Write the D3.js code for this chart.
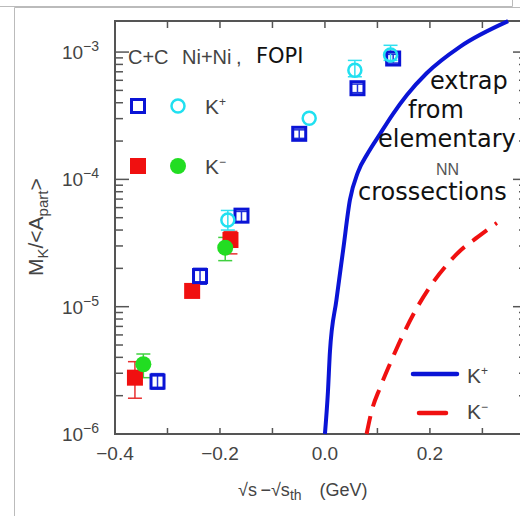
<!DOCTYPE html>
<html>
<head>
<meta charset="utf-8">
<script src="https://cdn.jsdelivr.net/npm/d3@7"></script>
<style>
  body { margin: 0; background: #fff; }
  svg { display: block; }
  .cond { font-family: "Liberation Sans", Arial, sans-serif; fill: #444; }
  .note { font-family: "DejaVu Sans", sans-serif; fill: #111; }
</style>
</head>
<body>
<svg width="520" height="516"></svg>
<script>
// data
// K+ open squares (C+C, Ni+Ni)
var kpSqX = [-0.319, -0.238, -0.159, -0.049, 0.062, 0.130];
var kpSqY = [2.58e-6, 1.74e-5, 5.19e-5, 2.28e-4, 5.2e-4, 8.9e-4];
var kpSqLo = [2.25e-6, 1.5e-5, 4.6e-5, 2.1e-4, 4.8e-4, 8.2e-4];
var kpSqHi = [2.98e-6, 2.0e-5, 5.6e-5, 2.45e-4, 5.6e-4, 9.6e-4];
// K+ open circles
var kpCiX = [-0.185, -0.030, 0.057, 0.125];
var kpCiY = [4.8e-5, 3.02e-4, 7.2e-4, 9.5e-4];
var kpCiLo = [4.0e-5, 3.02e-4, 6.4e-4, 8.6e-4];
var kpCiHi = [5.7e-5, 3.02e-4, 8.6e-4, 1.13e-3];
// K- filled squares
var kmSqX = [-0.362, -0.253, -0.180];
var kmSqY = [2.77e-6, 1.33e-5, 3.34e-5];
var kmSqLo = [1.91e-6, 1.33e-5, 2.6e-5];
var kmSqHi = [3.7e-6, 1.33e-5, 3.9e-5];
// K- filled circles
var kmCiX = [-0.346, -0.190];
var kmCiY = [3.53e-6, 2.91e-5];
var kmCiLo = [2.77e-6, 2.3e-5];
var kmCiHi = [4.25e-6, 3.5e-5];
// extrapolation from elementary NN cross sections
var kpCurveX = [0.0, 0.0057, 0.0095, 0.0219, 0.0347, 0.0476, 0.0629, 0.0819, 0.1048, 0.1295, 0.1562, 0.1937, 0.2571, 0.349];
var kpCurveY = [1e-6, 2.14e-6, 4.41e-6, 1.13e-5, 2.79e-5, 6.89e-5, 1.14e-4, 1.61e-4, 2.27e-4, 3.26e-4, 4.60e-4, 6.82e-4, 1.10e-3, 1.75e-3];
var kmCurveX = [0.0794, 0.0895, 0.1048, 0.1238, 0.1486, 0.1771, 0.2038, 0.2305, 0.2571, 0.2914, 0.3276];
var kmCurveY = [1e-6, 1.54e-6, 2.30e-6, 3.55e-6, 6.0e-6, 1.01e-5, 1.51e-5, 2.09e-5, 2.74e-5, 3.53e-5, 4.55e-5];

var xTicks = [-0.4, -0.2, 0.0, 0.2];
var yTicks = [1e-6, 1e-5, 1e-4, 1e-3];
var yExp = ["\u22126", "\u22125", "\u22124", "\u22123"];

var svg = d3.select("svg");

// screenshot frame lines
svg.append("path").attr("d", "M0,6.5H512.5V0").attr("fill", "none").attr("stroke", "#bbb");
svg.append("path").attr("d", "M14.5,516V7.5H520").attr("fill", "none").attr("stroke", "#bbb");

var x = d3.scaleLinear().domain([-0.4, 0.385]).range([115, 527]);
var y = d3.scaleLog().domain([1e-6, 1.754e-3]).range([434, 21]);

var axisColor = "#555";

// frame of plot
svg.append("rect")
    .attr("x", x.range()[0]).attr("y", y.range()[1])
    .attr("width", x.range()[1] - x.range()[0])
    .attr("height", y.range()[0] - y.range()[1])
    .attr("fill", "none").attr("stroke", axisColor).attr("stroke-width", 2);

// x ticks (every 0.1, bottom and top, inward)
var xMinor = d3.range(-4, 4).map(function (d) { return d / 10; });
svg.append("g").selectAll("line").data(xMinor).enter().append("line")
    .attr("x1", function (d) { return x(d); }).attr("x2", function (d) { return x(d); })
    .attr("y1", 434).attr("y2", 428)
    .attr("stroke", axisColor).attr("stroke-width", 1.5);
svg.append("g").selectAll("line").data(xMinor).enter().append("line")
    .attr("x1", function (d) { return x(d); }).attr("x2", function (d) { return x(d); })
    .attr("y1", 21).attr("y2", 28)
    .attr("stroke", axisColor).attr("stroke-width", 1.5);

svg.append("g").selectAll("text").data(xTicks).enter().append("text")
    .attr("class", "cond")
    .attr("x", function (d) { return x(d); })
    .attr("y", 460)
    .attr("text-anchor", "middle")
    .style("font-size", "19px")
    .text(function (d) { return d3.format(".1f")(d).replace("-", "\u2212"); });

// y ticks: log decades with minor ticks, left and right, inward
var yAll = [];
yTicks.forEach(function (t) {
  for (var k = 1; k <= 9; k++) {
    var v = t * k;
    if (v <= y.domain()[1]) yAll.push({ v: v, major: k === 1 });
  }
});
svg.append("g").selectAll("line").data(yAll).enter().append("line")
    .attr("x1", 115).attr("x2", function (d) { return d.major ? 129 : 123; })
    .attr("y1", function (d) { return y(d.v); }).attr("y2", function (d) { return y(d.v); })
    .attr("stroke", axisColor).attr("stroke-width", 1.5);
svg.append("g").selectAll("line").data(yAll).enter().append("line")
    .attr("x1", 527).attr("x2", function (d) { return d.major ? 513 : 519; })
    .attr("y1", function (d) { return y(d.v); }).attr("y2", function (d) { return y(d.v); })
    .attr("stroke", axisColor).attr("stroke-width", 1.5);

var yLab = svg.append("g").selectAll("text").data(yTicks).enter().append("text")
    .attr("class", "cond")
    .attr("x", 99)
    .attr("y", function (d) { return y(d) + 7; })
    .attr("text-anchor", "end")
    .style("font-size", "19px");
yLab.append("tspan").text("10");
yLab.append("tspan").attr("dy", -8).style("font-size", "14px")
    .text(function (d, i) { return yExp[i]; });

// axis titles
svg.append("text")
    .attr("class", "cond")
    .attr("x", 238).attr("y", 496)
    .style("font-size", "18px")
    .html('\u221As\u2009\u2212\u221As<tspan dy="4" style="font-size:14px">th</tspan><tspan dy="-4">\u2003(GeV)</tspan>');

svg.append("text")
    .attr("class", "cond")
    .attr("transform", "translate(43,276) rotate(-90)")
    .style("font-size", "21px")
    .html('M<tspan dy="5" style="font-size:15px">K</tspan><tspan dy="-5">/&lt;A</tspan><tspan dy="5" style="font-size:15px">part</tspan><tspan dy="-5">&gt;</tspan>');

// curves
var line = d3.line()
    .x(function (d) { return x(d[0]); })
    .y(function (d) { return y(d[1]); })
    .curve(d3.curveMonotoneX);

svg.append("path")
    .datum(d3.zip(kpCurveX, kpCurveY))
    .attr("d", line)
    .attr("fill", "none").attr("stroke", "#0a14d6").attr("stroke-width", 4);

svg.append("path")
    .datum(d3.zip(kmCurveX, kmCurveY))
    .attr("d", line)
    .attr("fill", "none").attr("stroke", "#f01010").attr("stroke-width", 4)
    .attr("stroke-dasharray", "18,10");

// error bars
function errBars(xs, ys, lo, hi, color, w) {
  var g = svg.append("g").attr("stroke", color).attr("stroke-width", 1.5);
  xs.forEach(function (xv, i) {
    if (lo[i] === hi[i]) return;
    g.append("line").attr("x1", x(xv)).attr("x2", x(xv)).attr("y1", y(lo[i])).attr("y2", y(hi[i]));
    g.append("line").attr("x1", x(xv) - w).attr("x2", x(xv) + w).attr("y1", y(lo[i])).attr("y2", y(lo[i]));
    g.append("line").attr("x1", x(xv) - w).attr("x2", x(xv) + w).attr("y1", y(hi[i])).attr("y2", y(hi[i]));
  });
}
errBars(kmSqX, kmSqY, kmSqLo, kmSqHi, "#e83030", 7);
errBars(kmCiX, kmCiY, kmCiLo, kmCiHi, "#40d040", 7);
errBars(kpSqX, kpSqY, kpSqLo, kpSqHi, "#2030d8", 7);
errBars(kpCiX, kpCiY, kpCiLo, kpCiHi, "#30e0f0", 7);

// markers
svg.append("g").selectAll("rect").data(d3.zip(kmSqX, kmSqY)).enter().append("rect")
    .attr("x", function (d) { return x(d[0]) - 8; })
    .attr("y", function (d) { return y(d[1]) - 8; })
    .attr("width", 16).attr("height", 16)
    .attr("fill", "#f01010");

svg.append("g").selectAll("circle").data(d3.zip(kmCiX, kmCiY)).enter().append("circle")
    .attr("cx", function (d) { return x(d[0]); })
    .attr("cy", function (d) { return y(d[1]); })
    .attr("r", 8)
    .attr("fill", "#22dd22");

svg.append("g").selectAll("rect").data(d3.zip(kpSqX, kpSqY)).enter().append("rect")
    .attr("x", function (d) { return x(d[0]) - 6.5; })
    .attr("y", function (d) { return y(d[1]) - 6.5; })
    .attr("width", 13).attr("height", 13)
    .attr("fill", "none").attr("stroke", "#0a14d6").attr("stroke-width", 3);

svg.append("g").selectAll("circle").data(d3.zip(kpCiX, kpCiY)).enter().append("circle")
    .attr("cx", function (d) { return x(d[0]); })
    .attr("cy", function (d) { return y(d[1]); })
    .attr("r", 6.5)
    .attr("fill", "none").attr("stroke", "#20e0f0").attr("stroke-width", 2.5);

// legend for markers
svg.append("rect").attr("x", 131.5).attr("y", 99.5).attr("width", 13).attr("height", 13)
    .attr("fill", "none").attr("stroke", "#0a14d6").attr("stroke-width", 3);
svg.append("circle").attr("cx", 178).attr("cy", 106).attr("r", 6.5)
    .attr("fill", "none").attr("stroke", "#20e0f0").attr("stroke-width", 2.5);
svg.append("rect").attr("x", 130).attr("y", 158).attr("width", 16).attr("height", 16).attr("fill", "#f01010");
svg.append("circle").attr("cx", 178).attr("cy", 166).attr("r", 8).attr("fill", "#22dd22");

svg.append("text").attr("class", "cond").attr("x", 205).attr("y", 114).style("font-size", "21px")
    .html('K<tspan dy="-8" style="font-size:12px">+</tspan>');
svg.append("text").attr("class", "cond").attr("x", 205).attr("y", 174).style("font-size", "21px")
    .html('K<tspan dy="-8" style="font-size:12px">\u2212</tspan>');

// title inside plot
svg.append("text").attr("class", "cond").attr("x", 128).attr("y", 64).style("font-size", "20px")
    .text("C+C");
svg.append("text").attr("class", "cond").attr("x", 182).attr("y", 64).style("font-size", "20px")
    .text("Ni+Ni");
svg.append("text").attr("class", "cond").attr("x", 236).attr("y", 64).style("font-size", "20px")
    .text(",");
svg.append("text").attr("class", "note").attr("x", 256).attr("y", 63).style("font-size", "21px")
    .text("FOPI");

// annotation
var notes = [
  { t: "extrap", x: 430, y: 89, s: 24 },
  { t: "from", x: 408, y: 118, s: 24 },
  { t: "elementary", x: 378, y: 147, s: 24 },
  { t: "crossections", x: 358, y: 200, s: 24 }
];
svg.append("g").selectAll("text").data(notes).enter().append("text")
    .attr("class", "note")
    .attr("x", function (d) { return d.x; })
    .attr("y", function (d) { return d.y; })
    .style("font-size", function (d) { return d.s + "px"; })
    .text(function (d) { return d.t; });
svg.append("text").attr("class", "cond").attr("x", 436).attr("y", 175).style("font-size", "16px")
    .style("fill", "#555").text("NN");

// legend for curves
svg.append("line").attr("x1", 413).attr("x2", 457).attr("y1", 374).attr("y2", 374)
    .attr("stroke", "#0a14d6").attr("stroke-width", 4.5).attr("stroke-linecap", "round");
svg.append("line").attr("x1", 419).attr("x2", 446).attr("y1", 413).attr("y2", 413)
    .attr("stroke", "#f01010").attr("stroke-width", 4.5).attr("stroke-linecap", "round");
svg.append("text").attr("class", "cond").attr("x", 467).attr("y", 383).style("font-size", "21px")
    .html('K<tspan dy="-8" style="font-size:12px">+</tspan>');
svg.append("text").attr("class", "cond").attr("x", 467).attr("y", 419).style("font-size", "21px")
    .html('K<tspan dy="-8" style="font-size:12px">\u2212</tspan>');
</script>
</body>
</html>
